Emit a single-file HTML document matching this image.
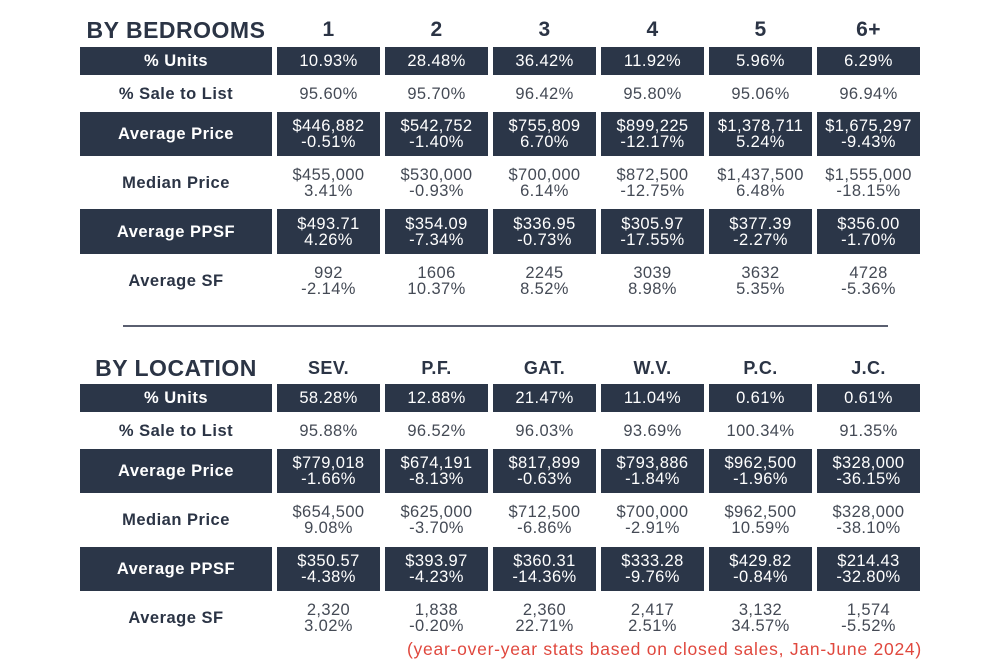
<!DOCTYPE html>
<html><head><meta charset="utf-8"><style>
body{margin:0;width:1000px;height:661px;background:#fff;position:relative;overflow:hidden;font-family:"Liberation Sans",sans-serif;}
.r{position:absolute;left:80px;display:flex;gap:5px;}
.r>div{display:flex;align-items:center;justify-content:center;text-align:center;width:103px;font-size:16.5px;letter-spacing:0.4px;line-height:16px;color:#444a55;white-space:nowrap;}
.r>div:first-child{width:192px;font-weight:bold;color:#2b3445;font-size:16.5px;letter-spacing:0.5px;}
.d>div{background:#2b3648;color:#fff;}
.d>div:first-child{color:#fff;}
.h>div{font-weight:bold;color:#2b3445;font-size:21px;}
.h>div:first-child{font-size:23px;letter-spacing:0.5px;}
.h2>div{font-size:18px;}
</style></head><body>
<div class="r h" style="top:16px;height:28px"><div>BY BEDROOMS</div><div>1</div><div>2</div><div>3</div><div>4</div><div>5</div><div>6+</div></div>
<div class="r d" style="top:47px;height:28px"><div>% Units</div><div>10.93%</div><div>28.48%</div><div>36.42%</div><div>11.92%</div><div>5.96%</div><div>6.29%</div></div>
<div class="r" style="top:80px;height:28px"><div>% Sale to List</div><div>95.60%</div><div>95.70%</div><div>96.42%</div><div>95.80%</div><div>95.06%</div><div>96.94%</div></div>
<div class="r d" style="top:112px;height:44px"><div>Average Price</div><div>$446,882<br>-0.51%</div><div>$542,752<br>-1.40%</div><div>$755,809<br>6.70%</div><div>$899,225<br>-12.17%</div><div>$1,378,711<br>5.24%</div><div>$1,675,297<br>-9.43%</div></div>
<div class="r" style="top:160px;height:46px"><div>Median Price</div><div>$455,000<br>3.41%</div><div>$530,000<br>-0.93%</div><div>$700,000<br>6.14%</div><div>$872,500<br>-12.75%</div><div>$1,437,500<br>6.48%</div><div>$1,555,000<br>-18.15%</div></div>
<div class="r d" style="top:209px;height:45px"><div>Average PPSF</div><div>$493.71<br>4.26%</div><div>$354.09<br>-7.34%</div><div>$336.95<br>-0.73%</div><div>$305.97<br>-17.55%</div><div>$377.39<br>-2.27%</div><div>$356.00<br>-1.70%</div></div>
<div class="r" style="top:258px;height:46px"><div>Average SF</div><div>992<br>-2.14%</div><div>1606<br>10.37%</div><div>2245<br>8.52%</div><div>3039<br>8.98%</div><div>3632<br>5.35%</div><div>4728<br>-5.36%</div></div>
<div style="position:absolute;left:123px;top:325px;width:765px;height:2px;background:#5a5f70"></div>
<div class="r h h2" style="top:354px;height:28px"><div>BY LOCATION</div><div>SEV.</div><div>P.F.</div><div>GAT.</div><div>W.V.</div><div>P.C.</div><div>J.C.</div></div>
<div class="r d" style="top:384px;height:28px"><div>% Units</div><div>58.28%</div><div>12.88%</div><div>21.47%</div><div>11.04%</div><div>0.61%</div><div>0.61%</div></div>
<div class="r" style="top:417px;height:28px"><div>% Sale to List</div><div>95.88%</div><div>96.52%</div><div>96.03%</div><div>93.69%</div><div>100.34%</div><div>91.35%</div></div>
<div class="r d" style="top:449px;height:44px"><div>Average Price</div><div>$779,018<br>-1.66%</div><div>$674,191<br>-8.13%</div><div>$817,899<br>-0.63%</div><div>$793,886<br>-1.84%</div><div>$962,500<br>-1.96%</div><div>$328,000<br>-36.15%</div></div>
<div class="r" style="top:497px;height:46px"><div>Median Price</div><div>$654,500<br>9.08%</div><div>$625,000<br>-3.70%</div><div>$712,500<br>-6.86%</div><div>$700,000<br>-2.91%</div><div>$962,500<br>10.59%</div><div>$328,000<br>-38.10%</div></div>
<div class="r d" style="top:547px;height:44px"><div>Average PPSF</div><div>$350.57<br>-4.38%</div><div>$393.97<br>-4.23%</div><div>$360.31<br>-14.36%</div><div>$333.28<br>-9.76%</div><div>$429.82<br>-0.84%</div><div>$214.43<br>-32.80%</div></div>
<div class="r" style="top:595px;height:46px"><div>Average SF</div><div>2,320<br>3.02%</div><div>1,838<br>-0.20%</div><div>2,360<br>22.71%</div><div>2,417<br>2.51%</div><div>3,132<br>34.57%</div><div>1,574<br>-5.52%</div></div>
<div style="position:absolute;right:78px;top:639px;color:#e0483e;font-size:17.5px;letter-spacing:0.75px;white-space:nowrap;">(year-over-year stats based on closed sales, Jan-June 2024)</div>
</body></html>
